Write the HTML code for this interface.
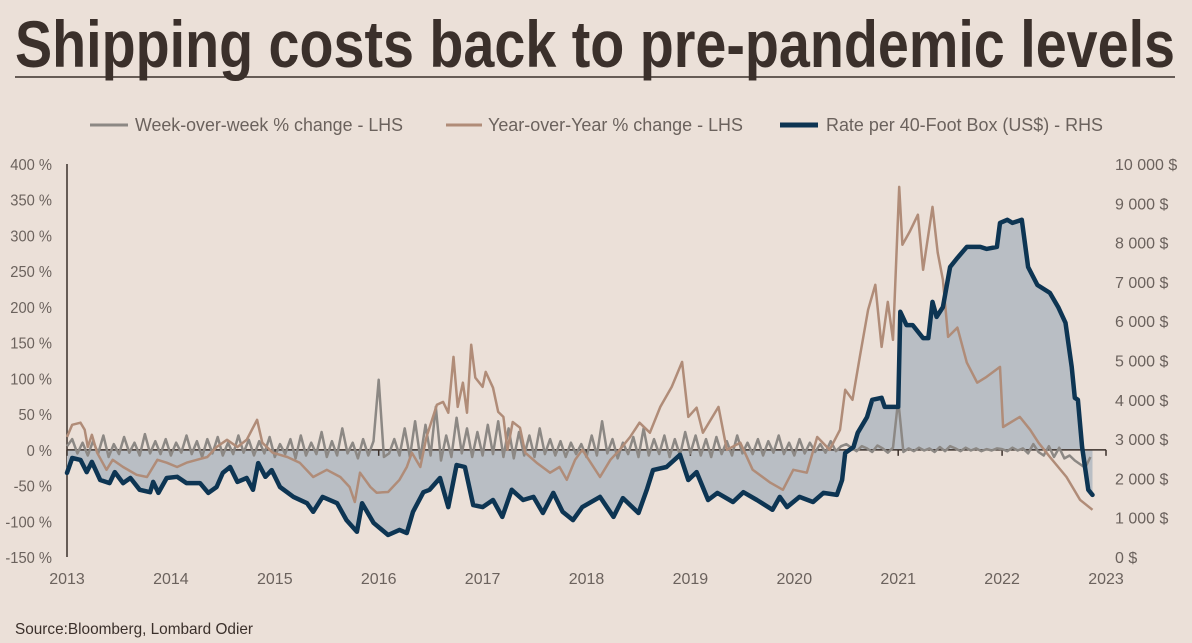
<!DOCTYPE html>
<html><head><meta charset="utf-8"><style>
html,body{margin:0;padding:0;background:#ebe0d8;}
svg{display:block;font-family:"Liberation Sans Narrow","Liberation Sans",sans-serif;}
</style></head><body>
<svg id="chart" width="1192" height="643" viewBox="0 0 1192 643">
<rect width="1192" height="643" fill="#ebe0d8"/>
<text x="15" y="67" font-size="66" font-weight="bold" fill="#3b302b" textLength="1160" lengthAdjust="spacingAndGlyphs">Shipping costs back to pre-pandemic levels</text>
<line x1="15" y1="77" x2="1175" y2="77" stroke="#3b302b" stroke-width="1.5"/>
<g font-size="18" fill="#6b625d">
<line x1="90" y1="125" x2="128" y2="125" stroke="#8c8884" stroke-width="3"/>
<text x="135" y="131" textLength="268" lengthAdjust="spacingAndGlyphs">Week-over-week % change - LHS</text>
<line x1="446" y1="125" x2="482" y2="125" stroke="#b08c78" stroke-width="3"/>
<text x="488" y="131" textLength="255" lengthAdjust="spacingAndGlyphs">Year-over-Year % change - LHS</text>
<line x1="780" y1="125" x2="818" y2="125" stroke="#0d3553" stroke-width="5"/>
<text x="826" y="131" textLength="277" lengthAdjust="spacingAndGlyphs">Rate per 40-Foot Box (US$) - RHS</text>
</g>
<g id="plot"></g>
<text x="15" y="634" font-size="16" fill="#3b302b" textLength="238" lengthAdjust="spacingAndGlyphs">Source:Bloomberg, Lombard Odier</text>
</svg>
<script>
const xTicks = [2013,2014,2015,2016,2017,2018,2019,2020,2021,2022,2023];
const leftTicks = [400,350,300,250,200,150,100,50,0,-50,-100,-150];
const rightTicks = [10000,9000,8000,7000,6000,5000,4000,3000,2000,1000,0];

const rateYears = [2013.00,2013.05,2013.13,2013.19,2013.24,2013.32,2013.41,2013.46,2013.54,2013.61,2013.70,2013.80,2013.83,2013.88,2013.96,2014.06,2014.15,2014.28,2014.36,2014.44,2014.50,2014.57,2014.64,2014.73,2014.79,2014.84,2014.91,2014.97,2015.05,2015.18,2015.31,2015.37,2015.46,2015.60,2015.69,2015.79,2015.84,2015.95,2016.09,2016.20,2016.27,2016.33,2016.43,2016.49,2016.59,2016.67,2016.75,2016.83,2016.91,2017.00,2017.10,2017.19,2017.28,2017.39,2017.49,2017.58,2017.68,2017.77,2017.87,2017.96,2018.13,2018.26,2018.35,2018.50,2018.58,2018.64,2018.77,2018.90,2018.98,2019.06,2019.17,2019.26,2019.41,2019.51,2019.64,2019.79,2019.86,2019.93,2020.05,2020.18,2020.28,2020.41,2020.46,2020.49,2020.57,2020.61,2020.70,2020.75,2020.84,2020.87,2021.00,2021.02,2021.08,2021.14,2021.24,2021.29,2021.33,2021.37,2021.43,2021.50,2021.57,2021.66,2021.79,2021.85,2021.95,2021.98,2022.05,2022.10,2022.19,2022.25,2022.34,2022.46,2022.54,2022.61,2022.67,2022.70,2022.73,2022.77,2022.83,2022.87];
const rateValues = [2140,2520,2470,2160,2420,1960,1880,2160,1880,2010,1710,1650,1910,1630,2010,2040,1880,1880,1630,1780,2140,2290,1910,2010,1710,2390,2040,2210,1780,1530,1370,1150,1530,1370,940,640,1370,870,560,690,610,1150,1650,1710,2010,1270,2340,2290,1320,1270,1450,1020,1710,1450,1530,1120,1630,1150,940,1270,1530,1020,1500,1120,1710,2210,2290,2600,1960,2160,1450,1630,1400,1650,1450,1200,1530,1270,1530,1400,1630,1580,1960,2650,2800,3160,3560,4000,4050,3820,3820,6240,5900,5900,5570,5570,6490,6110,6360,7380,7610,7890,7890,7840,7890,8500,8580,8500,8580,7380,6920,6720,6360,5960,4840,4050,4000,2800,1710,1580];

const yoyYears = [2013.00,2013.05,2013.13,2013.17,2013.20,2013.24,2013.29,2013.38,2013.44,2013.54,2013.67,2013.77,2013.87,2013.96,2014.06,2014.15,2014.25,2014.35,2014.44,2014.54,2014.64,2014.73,2014.83,2014.88,2014.98,2015.12,2015.24,2015.37,2015.50,2015.63,2015.72,2015.77,2015.82,2015.92,2015.98,2016.09,2016.20,2016.27,2016.32,2016.40,2016.46,2016.56,2016.62,2016.67,2016.72,2016.76,2016.81,2016.85,2016.89,2016.93,2017.00,2017.03,2017.10,2017.15,2017.20,2017.24,2017.29,2017.36,2017.41,2017.52,2017.65,2017.74,2017.81,2017.89,2017.96,2018.13,2018.23,2018.32,2018.42,2018.51,2018.61,2018.71,2018.82,2018.92,2018.98,2019.06,2019.12,2019.27,2019.35,2019.48,2019.60,2019.77,2019.89,2019.99,2020.12,2020.22,2020.34,2020.44,2020.49,2020.56,2020.63,2020.71,2020.78,2020.84,2020.90,2020.95,2021.01,2021.04,2021.11,2021.19,2021.24,2021.33,2021.38,2021.43,2021.48,2021.57,2021.66,2021.76,2021.85,2021.98,2022.01,2022.17,2022.27,2022.35,2022.46,2022.62,2022.75,2022.87];
const yoyValues = [18,35,38,28,4,21,-4,-28,-14,-24,-35,-38,-14,-18,-24,-18,-14,-10,4,14,4,14,42,10,-4,-10,-18,-38,-28,-38,-52,-73,-32,-52,-60,-59,-42,-24,-4,-24,18,63,67,52,130,60,94,52,147,101,88,109,87,53,46,0,39,31,-4,-18,-32,-24,-42,-14,0,-38,-14,0,18,38,24,60,88,123,46,59,24,60,0,10,-28,-46,-56,-28,-32,18,0,28,84,70,130,196,231,144,207,154,368,287,305,329,252,340,276,238,158,171,122,94,102,116,32,46,28,10,-10,-38,-70,-84];

const wowStart = 2013.0;
const wowStep = 0.05;
const wowValues = [5,15,-5,10,-8,12,-5,20,-10,8,-6,18,-4,10,-8,22,-5,12,-6,15,
-8,10,-4,20,-6,12,-10,15,-5,18,-8,10,-6,20,-4,14,-8,12,-5,18,
-10,8,-6,15,-12,20,-8,10,-6,25,-10,12,-8,30,-5,10,-12,15,-8,12,
98,-10,-5,15,-8,30,-10,40,-12,35,-8,60,-15,20,-10,45,-5,30,-10,25,
-8,35,-6,40,-10,30,-12,25,-8,20,-10,30,-6,15,-8,12,-10,10,-6,8,
-10,20,-8,40,-5,15,-12,10,-6,18,-10,30,-8,15,-6,20,-10,15,-8,25,
-5,20,-8,15,-10,18,-6,12,-8,20,-5,10,-6,15,-8,12,-4,20,-6,10,
-8,15,-5,10,-3,8,-4,12,-2,5,8,3,-2,5,2,-3,6,2,-4,3,
70,-3,2,-2,3,-1,2,-3,4,-2,5,2,-2,3,-1,2,-2,1,-1,2,
1,-2,3,-1,2,-5,8,-3,-8,5,-10,3,-12,-8,-15,-20,-25,-10];

const X0=67, X1=1106, TOP=164, BOT=557;
function xs(y){return X0+(y-2013)/(2023-2013)*(X1-X0);}
function yl(v){return BOT-(v+150)/550*(BOT-TOP);}
function yr(v){return BOT-v/10000*(BOT-TOP);}
const NS="http://www.w3.org/2000/svg";
const plot=document.getElementById('plot');
function mk(tag,attrs,parent){const e=document.createElementNS(NS,tag);for(const k in attrs)e.setAttribute(k,attrs[k]);(parent||plot).appendChild(e);return e;}

const la=mk('line',{x1:X0,y1:TOP,x2:X0,y2:BOT,stroke:'#3b302b','stroke-width':1.5});


leftTicks.forEach(v=>{
  const t=mk('text',{x:52,y:yl(v)+6,'font-size':16,fill:'#6b625d','text-anchor':'end',transform:'translate(52,0) scale(0.92,1) translate(-52,0)'});
  
  
  t.textContent=v+' %';
});
rightTicks.forEach(v=>{
  const t=mk('text',{x:1115,y:yr(v)+6,'font-size':16,fill:'#6b625d'});
  
  
  t.textContent=(v>=1000?Math.floor(v/1000)+' '+String(v%1000).padStart(3,'0'):v)+' $';
});

const y0=yl(0);
let d='M'+xs(rateYears[0])+','+y0;
rateYears.forEach((yr_,i)=>{d+=' L'+xs(yr_).toFixed(1)+','+yr(rateValues[i]).toFixed(1);});
d+=' L'+xs(rateYears[rateYears.length-1])+','+y0+' Z';
const area=mk('path',{d:d,fill:'#b9bec4'});



const xa=mk('line',{x1:X0,y1:y0,x2:X1,y2:y0,stroke:'#3b302b','stroke-width':1.5});


xTicks.forEach(v=>{
  const tk=mk('line',{x1:xs(v),y1:y0,x2:xs(v),y2:y0+6,stroke:'#3b302b','stroke-width':1.5});
  
  
  const t=mk('text',{x:xs(v),y:584,'font-size':16,fill:'#6b625d','text-anchor':'middle'});
  
  
  t.textContent=v;
});

let pw='';
wowValues.forEach((v,i)=>{pw+=(i?' L':'M')+xs(wowStart+i*wowStep).toFixed(1)+','+yl(v).toFixed(1);});
const wl=mk('path',{d:pw,fill:'none',stroke:'#8c8884','stroke-width':2.5,'stroke-linejoin':'round'});



let py='';
yoyYears.forEach((y,i)=>{py+=(i?' L':'M')+xs(y).toFixed(1)+','+yl(yoyValues[i]).toFixed(1);});
const yl_=mk('path',{d:py,fill:'none',stroke:'#b08c78','stroke-width':2.5,'stroke-linejoin':'round'});



let pr='';
rateYears.forEach((y,i)=>{pr+=(i?' L':'M')+xs(y).toFixed(1)+','+yr(rateValues[i]).toFixed(1);});
const rl=mk('path',{d:pr,fill:'none',stroke:'#0d3553','stroke-width':4.5,'stroke-linejoin':'round','stroke-linecap':'round'});


</script>
</body></html>
